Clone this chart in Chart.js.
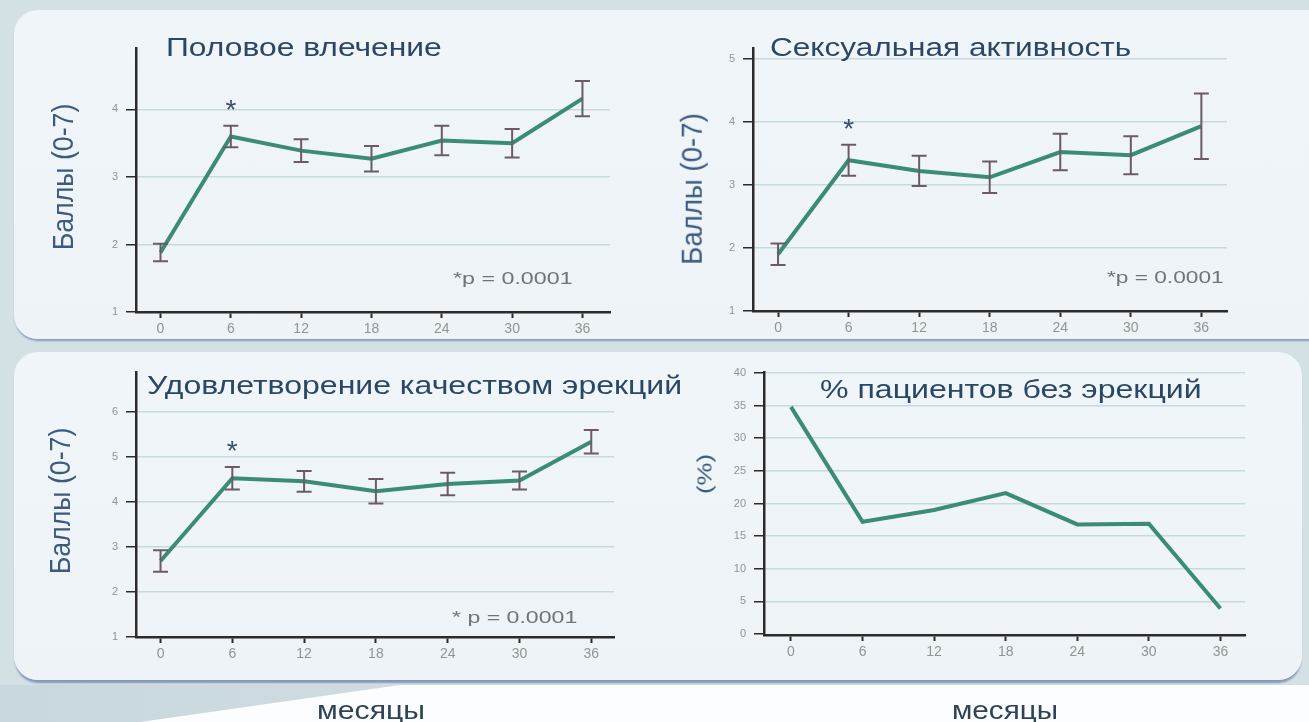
<!DOCTYPE html>
<html><head><meta charset="utf-8">
<script src="https://cdn.jsdelivr.net/npm/chart.js@4.4.1/dist/chart.umd.min.js"></script>
<style>
html,body{margin:0;padding:0;}
body{width:1309px;height:722px;position:relative;overflow:hidden;background:#d3e0e4;font-family:"Liberation Sans",Arial,sans-serif;}
.panel{position:absolute;border-radius:24px;background:linear-gradient(180deg,#f0f5f9 0%,#edf3f7 100%);}
#pTop{left:14px;top:10px;width:1340px;height:329px;box-shadow:0 3px 2px -1px #8a9bbd;}
#pBot{left:14px;top:352px;width:1288px;height:328px;box-shadow:0 4px 2px -1px #8597bc;}
#below{position:absolute;left:0;top:685px;width:1309px;height:37px;background:#fbfdfe;}
#belowTri{position:absolute;left:0;top:685px;width:1309px;height:37px;background:linear-gradient(90deg,#c9d8de,#d8e4e8);clip-path:polygon(0 0,400px 0,140px 37px,0 37px);}
canvas{position:absolute;left:0;top:0;}
.t{position:absolute;white-space:nowrap;transform-origin:0 50%;}
.v{position:absolute;white-space:nowrap;color:#3b5a7c;}
</style>
</head><body>
<div id="below"></div><div id="belowTri"></div>
<div class="panel" id="pTop"></div>
<div class="panel" id="pBot"></div>
<canvas id="c1" width="1309" height="722"></canvas>
<canvas id="c2" width="1309" height="722"></canvas>
<canvas id="c3" width="1309" height="722"></canvas>
<canvas id="c4" width="1309" height="722"></canvas>
<script>
// ---- data ----
const months = [0, 6, 12, 18, 24, 30, 36];
const monthTicks = [0, 6, 12, 18, 24, 30, 36];
const desireMean = [1.88, 3.60, 3.39, 3.27, 3.54, 3.50, 4.16];
const desireErr  = [0.13, 0.16, 0.17, 0.19, 0.22, 0.21, 0.26];
const activityMean = [1.90, 3.39, 3.22, 3.12, 3.52, 3.47, 3.93];
const activityErr  = [0.17, 0.245, 0.24, 0.25, 0.29, 0.30, 0.52];
const erectionMean = [2.69, 4.53, 4.46, 4.24, 4.40, 4.48, 5.34];
const erectionErr  = [0.24, 0.25, 0.23, 0.27, 0.25, 0.20, 0.26];
const noErectionPct = [34.8, 17.2, 19.0, 21.6, 16.8, 16.9, 3.9];
const desireTicks = [1, 2, 3, 4];
const activityTicks = [1, 2, 3, 4, 5];
const erectionTicks = [1, 2, 3, 4, 5, 6];
const pctTicks = [0, 5, 10, 15, 20, 25, 30, 35, 40];
const significantMonth = 6;

// ---- styling ----
const LINE = '#3a8c77', ERR = '#6b5c64', GRID = '#c6d9dd', AXIS = '#2b2b2b', TICKTXT = '#939393';
const W = 1309, H = 722, YW = 60, XH = 40;

function makePanel(id, area, xr, yr, yTicks, gridFrom, ys, errs) {
  const errPlugin = {
    id: 'err_' + id,
    afterDatasetsDraw(chart) {
      const {ctx, scales: {x, y}} = chart;
      ctx.save();
      if (errs) {
        ctx.strokeStyle = ERR; ctx.lineWidth = 2;
        const cap = 7.5;
        ys.forEach((m, i) => {
          const px = x.getPixelForValue(months[i]);
          const t = y.getPixelForValue(m + errs[i]);
          const b = y.getPixelForValue(m - errs[i]);
          ctx.beginPath();
          ctx.moveTo(px, t); ctx.lineTo(px, b);
          ctx.moveTo(px - cap, t); ctx.lineTo(px + cap, t);
          ctx.moveTo(px - cap, b); ctx.lineTo(px + cap, b);
          ctx.stroke();
        });
        const si = months.indexOf(significantMonth);
        const sx = x.getPixelForValue(significantMonth);
        const sy = y.getPixelForValue(ys[si] + errs[si]) - 23;
        ctx.fillStyle = '#3d5068';
        ctx.font = '28px "Liberation Sans", Arial, sans-serif';
        ctx.textAlign = 'center'; ctx.textBaseline = 'alphabetic';
        ctx.fillText('*', sx, sy + 0.57 * 28);
      }
      ctx.restore();
    }
  };
  return new Chart(document.getElementById(id), {
    type: 'line',
    data: {
      datasets: [{
        data: months.map((m, i) => ({x: m, y: ys[i]})),
        borderColor: LINE, borderWidth: 4, pointRadius: 0, tension: 0,
        borderJoinStyle: 'miter', fill: false
      }]
    },
    options: {
      responsive: false, animation: false, devicePixelRatio: 1, events: [],
      layout: {padding: {left: area.l - YW, top: area.t, right: W - area.r, bottom: H - area.b - XH}},
      plugins: {legend: {display: false}, tooltip: {enabled: false}, title: {display: false}},
      scales: {
        x: {
          type: 'linear', min: xr[0], max: xr[1],
          afterBuildTicks: s => { s.ticks = monthTicks.map(v => ({value: v})); },
          afterFit: s => { s.height = XH; },
          grid: {drawOnChartArea: false, drawTicks: true, tickLength: 6, tickColor: AXIS, tickWidth: 2},
          border: {display: true, color: AXIS, width: 2.5},
          ticks: {color: TICKTXT, font: {size: 14, family: '"Liberation Sans", Arial'}, padding: 3, maxRotation: 0, autoSkip: false}
        },
        y: {
          type: 'linear', min: yr[0], max: yr[1],
          afterBuildTicks: s => { s.ticks = yTicks.map(v => ({value: v})); },
          afterFit: s => { s.width = YW; },
          grid: {
            drawOnChartArea: true, drawTicks: true, tickLength: 10,
            color: c => (c.tick && c.tick.value >= gridFrom) ? GRID : 'rgba(0,0,0,0)',
            lineWidth: 1.5, tickColor: AXIS, tickWidth: 1.5
          },
          border: {display: true, color: AXIS, width: 2.5},
          ticks: {color: TICKTXT, font: {size: 11, family: '"Liberation Sans", Arial'}, padding: 8}
        }
      }
    },
    plugins: [errPlugin]
  });
}

makePanel('c1', {l: 136, t: 48, r: 610, b: 312}, [-2.09, 38.35], [1, 4.91], desireTicks, 2, desireMean, desireErr);
makePanel('c2', {l: 753, t: 48, r: 1227, b: 311}, [-2.13, 38.18], [1, 5.17], activityTicks, 2, activityMean, activityErr);
makePanel('c3', {l: 136, t: 372, r: 614, b: 637}, [-2.05, 37.9], [1, 6.89], erectionTicks, 2, erectionMean, erectionErr);
makePanel('c4', {l: 764, t: 372, r: 1245, b: 635}, [-2.26, 38.06], [-0.15, 40.15], pctTicks, 5, noErectionPct, null);

// ---- text ----
const texts = [
  {t: 'Половое влечение', x: 166, cy: 47, w: 276, fs: 25, c: '#2a4763'},
  {t: 'Сексуальная активность', x: 770, cy: 47, w: 361, fs: 25, c: '#2a4763'},
  {t: 'Удовлетворение качеством эрекций', x: 147, cy: 385, w: 535, fs: 25, c: '#2a4763'},
  {t: '% пациентов без эрекций', x: 820, cy: 389, w: 381, fs: 25, c: '#2a4763'},
  {t: '*p = 0.0001', x: 453, cy: 278, w: 119, fs: 17, c: '#707478'},
  {t: '*p = 0.0001', x: 1107, cy: 277, w: 116, fs: 17, c: '#707478'},
  {t: '* p = 0.0001', x: 452, cy: 617, w: 125, fs: 17, c: '#707478'},
  {t: 'месяцы', x: 317, cy: 710, w: 108, fs: 26, c: '#2f4256'},
  {t: 'месяцы', x: 952, cy: 710, w: 106, fs: 26, c: '#2f4256'}
];
texts.forEach(o => {
  const d = document.createElement('div');
  d.className = 't'; d.textContent = o.t;
  d.style.fontSize = o.fs + 'px'; d.style.lineHeight = o.fs + 'px'; d.style.color = o.c;
  d.style.left = o.x + 'px'; d.style.top = (o.cy - o.fs / 2) + 'px';
  document.body.appendChild(d);
  const mw = d.offsetWidth;
  d.style.transform = 'scaleX(' + (o.w / mw) + ')';
});
const vtexts = [
  {t: 'Баллы (0-7)', cx: 63, cy: 177, len: 147, fs: 26},
  {t: 'Баллы (0-7)', cx: 691, cy: 189, len: 152, fs: 26},
  {t: 'Баллы (0-7)', cx: 60, cy: 501, len: 147, fs: 26},
  {t: '(%)', cx: 705, cy: 474, len: 40, fs: 18}
];
vtexts.forEach(o => {
  const d = document.createElement('div');
  d.className = 'v'; d.textContent = o.t;
  d.style.fontSize = o.fs + 'px'; d.style.lineHeight = o.fs + 'px';
  d.style.left = o.cx + 'px'; d.style.top = o.cy + 'px';
  document.body.appendChild(d);
  const mw = d.offsetWidth;
  d.style.transform = 'translate(-50%,-50%) rotate(-90deg) scale(' + (o.len / mw) + ',1.15)';
});
</script>
</body></html>
